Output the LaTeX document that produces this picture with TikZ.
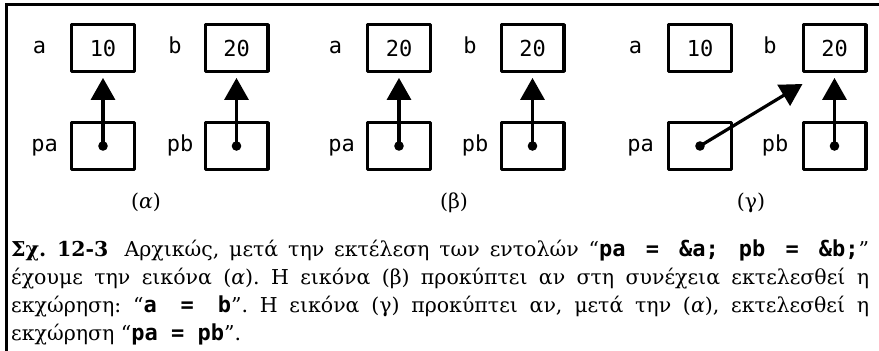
\documentclass[tikz,border=0pt]{standalone}
\usepackage{fontspec}
\setmainfont{DejaVu Serif}
\newfontfamily\monofont{DejaVu Sans Mono}
\usetikzlibrary{arrows.meta,calc}

\newcommand\codetext[1]{{\monofont\bfseries\fontsize{22}{22}\selectfont #1}}

\tikzset{
  cell/.style={draw, line width=3.2pt, line join=round, minimum width=62.8pt,
    minimum height=46.8pt, inner sep=0pt, outer sep=0pt,
    font=\monofont\fontsize{22}{22}\selectfont},
  varname/.style={anchor=base, inner sep=0pt, font=\monofont\fontsize{22}{22}\selectfont},
  ptr/.style={line width=3.2pt, -{Triangle[length=22pt,width=24pt]}, shorten >=6.5pt},
  sublabel/.style={anchor=base, inner sep=0pt, font=\fontsize{20.5}{20.5}\selectfont},
  capline/.style={anchor=base west, inner sep=0pt, font=\frenchspacing\fontsize{20.5}{20.5}\selectfont},
  frameline/.style={line width=2.6pt}
}

\begin{document}
\begin{tikzpicture}[x=1pt, y=-1pt]
\useasboundingbox (0,0) rectangle (879,351);

% frame: top and left edges
\draw[frameline] (6.5,351) -- (6.5,4.5) -- (879,4.5);

% ---- panel (alpha)
\node[cell] (aA)  at (103,48)   {10};
\node[cell] (aB)  at (236.5,48) {20};
\node[cell] (aPA) at (103,146)  {};
\node[cell] (aPB) at (236.5,146){};
\node[varname] (aAl)  at ($(aA.west)+(-32,5.5)$)  {a};
\node[varname] (aBl)  at ($(aB.west)+(-30,5.5)$)  {b};
\node[varname] (aPAl) at ($(aPA.west)+(-27,5.5)$) {pa};
\node[varname] (aPBl) at ($(aPB.west)+(-25,5.5)$) {pb};
\draw[ptr] (aPA.center) -- (aA.south);
\draw[ptr] (aPB.center) -- (aB.south);
\fill (aPA.center) circle (4.8);
\fill (aPB.center) circle (4.8);
\node[sublabel] (aCap) at (146,208) {(\textit{α})};

% ---- panel (beta)
\node[cell] (bA)  at (399,48)   {20};
\node[cell] (bB)  at (532.5,48) {20};
\node[cell] (bPA) at (399,146)  {};
\node[cell] (bPB) at (532.5,146){};
\node[varname] (bAl)  at ($(bA.west)+(-32,5.5)$)  {a};
\node[varname] (bBl)  at ($(bB.west)+(-31,5.5)$)  {b};
\node[varname] (bPAl) at ($(bPA.west)+(-26,5.5)$) {pa};
\node[varname] (bPBl) at ($(bPB.west)+(-26,5.5)$) {pb};
\draw[ptr] (bPA.center) -- (bA.south);
\draw[ptr] (bPB.center) -- (bB.south);
\fill (bPA.center) circle (4.8);
\fill (bPB.center) circle (4.8);
\node[sublabel] (bCap) at (454,208) {(β)};

% ---- panel (gamma)
\node[cell] (gA)  at (700,48)   {10};
\node[cell] (gB)  at (834.5,48) {20};
\node[cell] (gPA) at (700,146)  {};
\node[cell] (gPB) at (834.5,146){};
\node[varname] (gAl)  at ($(gA.west)+(-33,5.5)$)  {a};
\node[varname] (gBl)  at ($(gB.west)+(-33,5.5)$)  {b};
\node[varname] (gPAl) at ($(gPA.west)+(-28,5.5)$) {pa};
\node[varname] (gPBl) at ($(gPB.west)+(-28,5.5)$) {pb};
\coordinate (gTip) at ($(gB.south west)+(-0.6,12.6)$);
\draw[ptr, shorten >=0pt] (gPA.center) -- (gTip);
\draw[ptr] (gPB.center) -- (gB.south);
\fill (gPA.center) circle (4.8);
\fill (gPB.center) circle (4.8);
\node[sublabel] (gCap) at (751,208) {(γ)};

% ---- caption
\node[capline] (cap1) at (11,256) {\makebox[858pt][s]{\textbf{Σχ. 12-3}\hspace{0.3em} Αρχικώς, μετά την εκτέλεση των εντολών “\codetext{pa = \&a; pb = \&b;}”}};
\node[capline] (cap2) at (11,284) {\makebox[858pt][s]{έχουμε την εικόνα (\textit{α}). Η εικόνα (β) προκύπτει αν στη συνέχεια εκτελεσθεί η}};
\node[capline] (cap3) at (11,312) {\makebox[858pt][s]{εκχώρηση: “\codetext{a = b}”. Η εικόνα (γ) προκύπτει αν, μετά την (\textit{α}), εκτελεσθεί η}};
\node[capline] (cap4) at (11,340) {εκχώρηση “\codetext{pa = pb}”.};
\end{tikzpicture}
\end{document}
